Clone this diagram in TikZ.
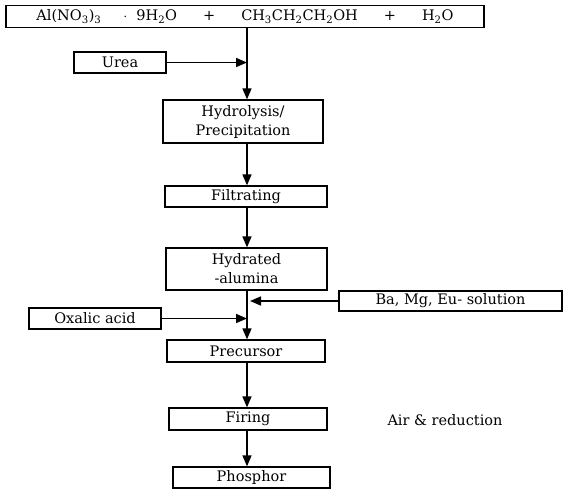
\documentclass[tikz,border=0pt]{standalone}
\usepackage{fontspec}
\setmainfont{DejaVu Serif}
\usetikzlibrary{arrows.meta}

\begin{document}
\begin{tikzpicture}[
    x=1pt, y=-1pt,
    font=\fontsize{14.5}{19}\selectfont,
    stepbox/.style={rectangle, draw=black, line width=1.3pt, align=center, inner sep=0pt},
    arrow/.style={-{Triangle[length=11pt,width=9pt]}, line width=1.6pt}
]
\useasboundingbox (0,0) rectangle (565,490);

% Nodes
\node[stepbox, minimum width=478pt, minimum height=22pt] (mix) at (245,16.5)
  {Al(NO\textsubscript{3})\textsubscript{3}\hspace{22pt}$\cdot$\hspace{9pt}9H\textsubscript{2}O\hspace{26pt}+\hspace{26pt}CH\textsubscript{3}CH\textsubscript{2}CH\textsubscript{2}OH\hspace{26pt}+\hspace{26pt}H\textsubscript{2}O};
\node[stepbox, minimum width=92pt, minimum height=21pt] (urea) at (120,62.5) {Urea};
\node[stepbox, minimum width=160pt, minimum height=43pt] (hydro) at (243,121.5) {Hydrolysis/\\Precipitation};
\node[stepbox, minimum width=162pt, minimum height=21pt] (filt) at (246,196.5) {Filtrating};
\node[stepbox, minimum width=161pt, minimum height=42pt] (alumina) at (246.5,269) {Hydrated\\-alumina};
\node[stepbox, minimum width=223pt, minimum height=20pt] (metal) at (450.5,301) {Ba, Mg, Eu- solution};
\node[stepbox, minimum width=132pt, minimum height=21pt] (oxalic) at (95,318.5) {Oxalic acid};
\node[stepbox, minimum width=158pt, minimum height=22pt] (precursor) at (246,351) {Precursor};
\node[stepbox, minimum width=158pt, minimum height=22pt] (firing) at (248,419) {Firing};
\node[stepbox, minimum width=157pt, minimum height=21pt] (phosphor) at (251.5,477.5) {Phosphor};
\node (air) at (445,420) {Air \& reduction};

\coordinate (spine) at (247,0);
\coordinate (metalin) at (250,0);

% Arrows
\draw[arrow] (mix.south -| spine) -- (hydro.north -| spine);
\draw[arrow] (urea.east) -- (urea.east -| spine);
\draw[arrow] (hydro.south -| spine) -- (filt.north -| spine);
\draw[arrow] (filt.south -| spine) -- (alumina.north -| spine);
\draw[arrow] (alumina.south -| spine) -- (precursor.north -| spine);
\draw[arrow] (metal.west) -- (metal.west -| metalin);
\draw[arrow] (oxalic.east) -- (oxalic.east -| spine);
\draw[arrow] (precursor.south -| spine) -- (firing.north -| spine);
\draw[arrow] (firing.south -| spine) -- (phosphor.north -| spine);

\end{tikzpicture}
\end{document}
